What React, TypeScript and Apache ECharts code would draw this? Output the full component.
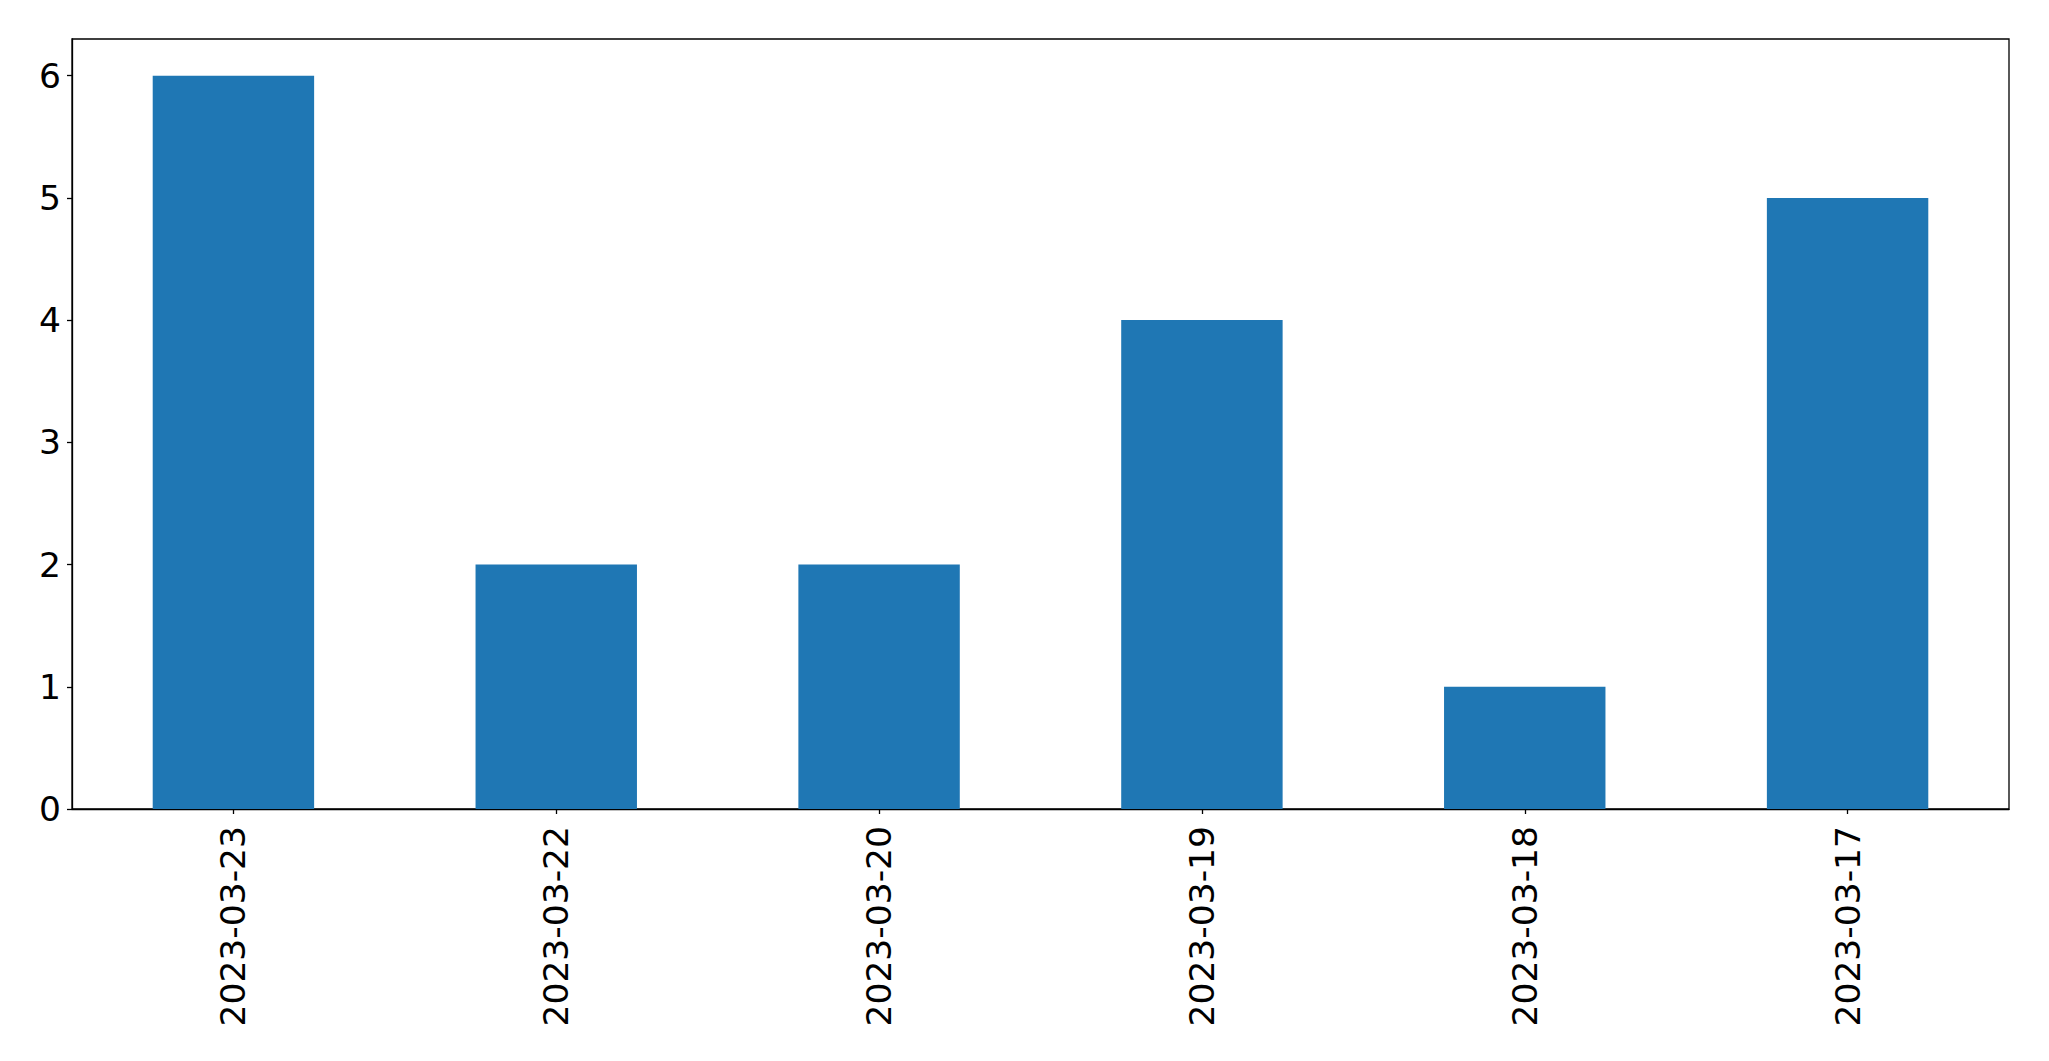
import React, { useEffect, useRef } from "react";
import * as echarts from "echarts";

const categories = ["2023-03-23", "2023-03-22", "2023-03-20", "2023-03-19", "2023-03-18", "2023-03-17"];
const values = [6, 2, 2, 4, 1, 5];
const yTicks = [0, 1, 2, 3, 4, 5, 6];

export default function App() {
  const ref = useRef<HTMLDivElement>(null);
  useEffect(() => {
    if (!ref.current) return;
    const chart = echarts.init(ref.current, null, { renderer: "svg" });
    const font = "'DejaVu Sans', sans-serif";
    chart.setOption({
      animation: false,
      backgroundColor: "#ffffff",
      grid: {
        left: 72,
        top: 39,
        right: 40,
        bottom: 252,
        show: true,
        borderColor: "#000000",
        borderWidth: 1.3,
        backgroundColor: "transparent",
      },
      xAxis: {
        type: "category",
        data: categories,
        boundaryGap: true,
        axisLine: { show: true, lineStyle: { color: "#000000", width: 1.3 } },
        axisTick: { show: true, alignWithLabel: true, length: 5, lineStyle: { color: "#000000", width: 1.3 } },
        axisLabel: {
          rotate: 90,
          interval: 0,
          margin: 17,
          color: "#000000",
          fontSize: 34.5,
          fontFamily: font,
        },
        splitLine: { show: false },
      },
      yAxis: {
        type: "value",
        min: 0,
        max: 6.3,
        interval: 1,
        axisLine: { show: true, lineStyle: { color: "#000000", width: 1.3 } },
        axisTick: { show: true, length: 5, lineStyle: { color: "#000000", width: 1.3 }, customValues: yTicks },
        axisLabel: {
          margin: 11,
          color: "#000000",
          fontSize: 34.5,
          fontFamily: font,
          customValues: yTicks,
        },
        splitLine: { show: false },
      },
      series: [
        {
          type: "bar",
          data: values,
          barWidth: "50%",
          itemStyle: { color: "#1f77b4" },
        },
      ],
    });
    return () => chart.dispose();
  }, []);
  return (
    <div
      ref={ref}
      style={{ position: "fixed", left: 0, top: 0, width: 2049, height: 1061, background: "#fff" }}
    />
  );
}
